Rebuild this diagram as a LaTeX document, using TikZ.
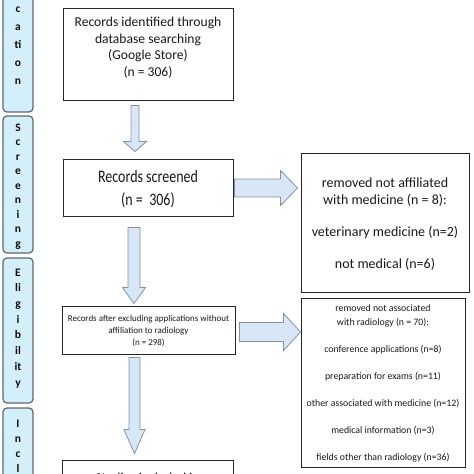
\documentclass[tikz,border=0pt]{standalone}
\usepackage{fontspec}
\setmainfont{Carlito}
\usetikzlibrary{calc}
\definecolor{bandfill}{HTML}{D3F0FA}
\definecolor{bandline}{HTML}{5E6770}
\definecolor{arrfill}{HTML}{D8E7F8}
\definecolor{arrline}{HTML}{8391A0}
\tikzset{
  box/.style={draw=black!85, line width=0.9pt, fill=white, inner sep=0pt},
  band/.style={draw=bandline, fill=bandfill, line width=1.2pt, rounded corners=4pt, inner sep=0pt, minimum width=30pt},
  bandtxt/.style={font=\fontsize{11.5}{#1}\selectfont\bfseries, text=black!95, align=center, inner sep=0pt, anchor=base},
  btxt/.style={align=center, inner sep=0pt, anchor=base, text=black!90},
  fatarrow/.style={draw=arrline, fill=arrfill, line width=0.8pt, line join=miter},
}
\newcommand\vfat[5]{%
  \draw[fatarrow] let \p1=#1, \p2=#2 in
    (\x1-#3pt,\y1) -- (\x1+#3pt,\y1) -- (\x1+#3pt,\y2+#5pt) -- (\x1+#4pt,\y2+#5pt)
    -- (\x1,\y2) -- (\x1-#4pt,\y2+#5pt) -- (\x1-#3pt,\y2+#5pt) -- cycle;}
\newcommand\hfat[5]{%
  \draw[fatarrow] let \p1=#1, \p2=#2 in
    (\x1,\y1+#3pt) -- (\x2-#5pt,\y1+#3pt) -- (\x2-#5pt,\y1+#4pt) -- (\x2,\y1)
    -- (\x2-#5pt,\y1-#4pt) -- (\x2-#5pt,\y1-#3pt) -- (\x1,\y1-#3pt) -- cycle;}
\begin{document}
\begin{tikzpicture}[x=1pt,y=-1pt]
\useasboundingbox (0,0) rectangle (474,474);
\fill[white] (0,0) rectangle (474,474);
\clip (0,0) rectangle (474,474);

% phase bands
\node[band, minimum height=140pt] (p1) at (18,42) {};
\node[band, minimum height=137pt] (p2) at (18,184.5) {};
\node[band, minimum height=145pt] (p3) at (18,330.5) {};
\node[band, minimum height=100pt] (p4) at (18,458) {};
\node[bandtxt=18pt] (p1t) at (18,84.5) {c\\a\\ti\\o\\n};
\node[bandtxt=14.5pt] (p2t) at (18,247) {S\\c\\r\\e\\e\\n\\i\\n\\g};
\node[bandtxt=15.7pt] (p3t) at (18,386) {E\\li\\g\\i\\b\\il\\it\\y};
\node[bandtxt=15pt] (p4t) at (18,472) {I\\n\\c\\l};

% boxes
\node[box, minimum width=170pt, minimum height=92pt] (b1) at (148,54) {};
\node[box, minimum width=170pt, minimum height=57pt] (b2) at (148,187.5) {};
\node[box, minimum width=168pt, minimum height=139pt] (b3) at (385,222.5) {};
\node[box, minimum width=173pt, minimum height=48pt] (b4) at (148.5,330) {};
\node[box, minimum width=164pt, minimum height=169pt] (b5) at (383,382.5) {};
\node[box, minimum width=171pt, minimum height=70pt] (b6) at (147.5,495) {};

% texts
\node[btxt, font=\fontsize{13.6}{16.7}\selectfont] (b1t) at (148,76.6)
  {Records identified through\\database searching\\(Google Store)\\(n = 306)};
\node[btxt, font=\fontsize{17.5}{23}\selectfont, xscale=0.8] (b2t) at (148,205.5)
  {Records screened\\(n =\ \ 306)};
\node[btxt, font=\fontsize{14}{17}\selectfont] (b3t) at (385,268)
  {removed not affiliated\\with medicine (n = 8):\\[15pt]veterinary medicine (n=2)\\[15pt]not medical (n=6)};
\node[btxt, font=\fontsize{9}{12}\selectfont] (b4t) at (148.5,345.5)
  {Records after excluding applications without\\affiliation to radiology\\(n = 298)};
\node[btxt, font=\fontsize{9.8}{14}\selectfont] (b5t) at (383,460.5)
  {removed not associated\\with radiology (n = 70):\\[13pt]conference applications (n=8)\\[13pt]preparation for exams (n=11)\\[13pt]other associated with medicine (n=12)\\[13pt]medical information (n=3)\\[13pt]fields other than radiology (n=36)};
\node[btxt, font=\fontsize{13.6}{16.7}\selectfont] (b6t) at (147.5,482)
  {Studies included in};

% arrows
\vfat{($(b1.south)+(-13,5)$)}{($(b2.north)+(-13,-7)$)}{4}{11.5}{10}
\vfat{($(b2.south)+(-14,11)$)}{($(b4.north)+(-14,-2)$)}{6}{11.5}{16}
\vfat{($(b4.south)+(-14,3)$)}{($(b6.north)+(-14,-6)$)}{5.5}{10.5}{24}
\hfat{($(b2.east)+(1,0.5)$)}{($(b3.west)+(-3,0)$)}{9}{17.5}{17}
\hfat{($(b4.east)+(4,2)$)}{(b5.west)}{9.5}{18.5}{17}
\end{tikzpicture}
\end{document}
